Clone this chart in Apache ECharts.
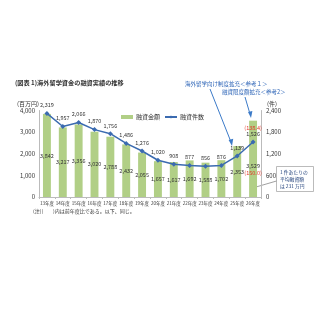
<!DOCTYPE html>
<html><head><meta charset="utf-8">
<script src="https://cdn.jsdelivr.net/npm/echarts@6/dist/echarts.min.js"></script>
<style>html,body{margin:0;padding:0;background:#fff}#c{width:320px;height:320px}</style>
</head><body><div id="c"></div>
<script>
const categories = ['13年度','14年度','15年度','16年度','17年度','18年度','19年度','20年度','21年度','22年度','23年度','24年度','25年度','26年度'];
const amountValues = [3842,3217,3356,3020,2788,2432,2055,1657,1617,1692,1588,1702,2353,3529];
const countValues = [2319,1957,2066,1870,1756,1486,1276,1020,908,877,856,876,1139,1526];
const leftTicks = [0,1000,2000,3000,4000];
const rightTicks = [0,600,1200,1800,2400];
const amountRatio = '(150.0)';
const countRatio = '(138.4)';

const fmt = v => v.toLocaleString('en-US');
const FONT = '"Noto Sans CJK JP", sans-serif';
const GREEN = '#b1cf86';
const BLUE = '#3b6bb0';
const RED = '#e23a2a';
const last = categories.length - 1;

const chart = echarts.init(document.getElementById('c'), null, {renderer:'canvas'});
chart.setOption({
  animation:false,
  textStyle:{fontFamily:FONT},
  grid:{left:39,right:59,top:110.5,bottom:123},
  legend:{
    left:116, top:109, itemGap:4, itemWidth:12, itemHeight:4,
    textStyle:{fontSize:6,color:'#333',fontFamily:FONT, padding:[0,0,0,-2]},
    data:[{name:'融資金額',icon:'rect'},{name:'融資件数'}]
  },
  xAxis:{
    type:'category', data:categories,
    axisLine:{lineStyle:{color:'#bbb',width:1}},
    axisTick:{show:true,lineStyle:{color:'#bbb'},length:2},
    axisLabel:{interval:0,fontSize:4.5,color:'#333',margin:4,fontFamily:FONT}
  },
  yAxis:[{
    type:'value', min:leftTicks[0], max:leftTicks[leftTicks.length-1], interval:1000,
    splitLine:{show:false},
    axisLine:{show:true,lineStyle:{color:'#bbb'}},
    axisTick:{show:false},
    axisLabel:{fontSize:6,color:'#333',margin:4,formatter:v=>fmt(v),fontFamily:FONT},
    name:'(百万円)', nameLocation:'end', nameGap:4,
    nameTextStyle:{fontSize:6,color:'#333',align:'right',padding:[0,0,0,0],fontFamily:FONT}
  },{
    type:'value', min:rightTicks[0], max:rightTicks[rightTicks.length-1], interval:600,
    splitLine:{show:false},
    axisLine:{show:true,lineStyle:{color:'#bbb'}},
    axisTick:{show:false},
    axisLabel:{fontSize:6,color:'#333',margin:5,formatter:v=>fmt(v),fontFamily:FONT},
    name:'(件)', nameLocation:'end', nameGap:4,
    nameTextStyle:{fontSize:6,color:'#333',align:'left',padding:[0,0,0,6],fontFamily:FONT}
  }],
  series:[{
    name:'融資金額', type:'bar', yAxisIndex:0, barWidth:'50%',
    itemStyle:{color:GREEN},
    label:{show:true,position:'inside',fontSize:5.5,color:'#333',fontFamily:FONT,
      formatter:p=>fmt(p.value)},
    data:amountValues.map((v,i)=> i===last ? {value:v,label:{offset:[0,11],lineHeight:7,
      formatter:p=>fmt(p.value)+'\n{r|'+amountRatio+'}',rich:{r:{color:RED,fontSize:5.5}}}} : v)
  },{
    name:'融資件数', type:'line', yAxisIndex:1,
    symbol:'diamond', symbolSize:5,
    lineStyle:{color:BLUE,width:1.5}, itemStyle:{color:BLUE},
    label:{show:true,position:'top',distance:3,fontSize:5.5,color:'#333',fontFamily:FONT,
      formatter:p=>fmt(p.value)},
    data:countValues.map((v,i)=> i===last ? {value:v,label:{lineHeight:6,
      formatter:p=>'{r|'+countRatio+'}\n'+fmt(p.value),rich:{r:{color:RED,fontSize:5.5}}}} : v)
  }],
  graphic:[
    {type:'text',left:15,top:80,style:{text:'(図表 1)海外留学資金の融資実績の推移',fontSize:6.2,fontWeight:'bold',fill:'#333',fontFamily:FONT}},
    {type:'text',left:185,top:81,style:{text:'海外留学向け制度拡充＜参考１＞',fontSize:5.5,fill:'#2f66b8',fontFamily:FONT}},
    {type:'text',left:222,top:89,style:{text:'融資限度額拡充＜参考2＞',fontSize:5.5,fill:'#2f66b8',fontFamily:FONT}},
    {type:'line',shape:{x1:210,y1:89,x2:231,y2:142},style:{stroke:'#3b7ac8',lineWidth:1}},
    {type:'polygon',shape:{points:[[232,146],[228.6,140],[233.2,138.8]]},style:{fill:'#3b7ac8'}},
    {type:'line',shape:{x1:245,y1:97,x2:250,y2:114},style:{stroke:'#3b7ac8',lineWidth:1}},
    {type:'polygon',shape:{points:[[251,118],[248,112],[252.4,111]]},style:{fill:'#3b7ac8'}},
    {type:'rect',shape:{x:276.5,y:166.5,width:37,height:25},style:{fill:'#fff',stroke:'#aaa',lineWidth:0.8}},
    {type:'line',shape:{x1:276.5,y1:181,x2:256,y2:187},style:{stroke:'#888',lineWidth:0.8}},
    {type:'text',left:280,top:168.5,style:{text:'1 件あたりの\n平均融資額\nは 231 万円',fontSize:4.8,lineHeight:7,fill:'#1f3f7a',fontFamily:FONT}},
    {type:'text',left:33,top:208.5,style:{text:'(注)(　　)内は前年度比である。以下、同じ。',fontSize:5,fill:'#333',fontFamily:FONT}}
  ]
});
</script></body></html>
